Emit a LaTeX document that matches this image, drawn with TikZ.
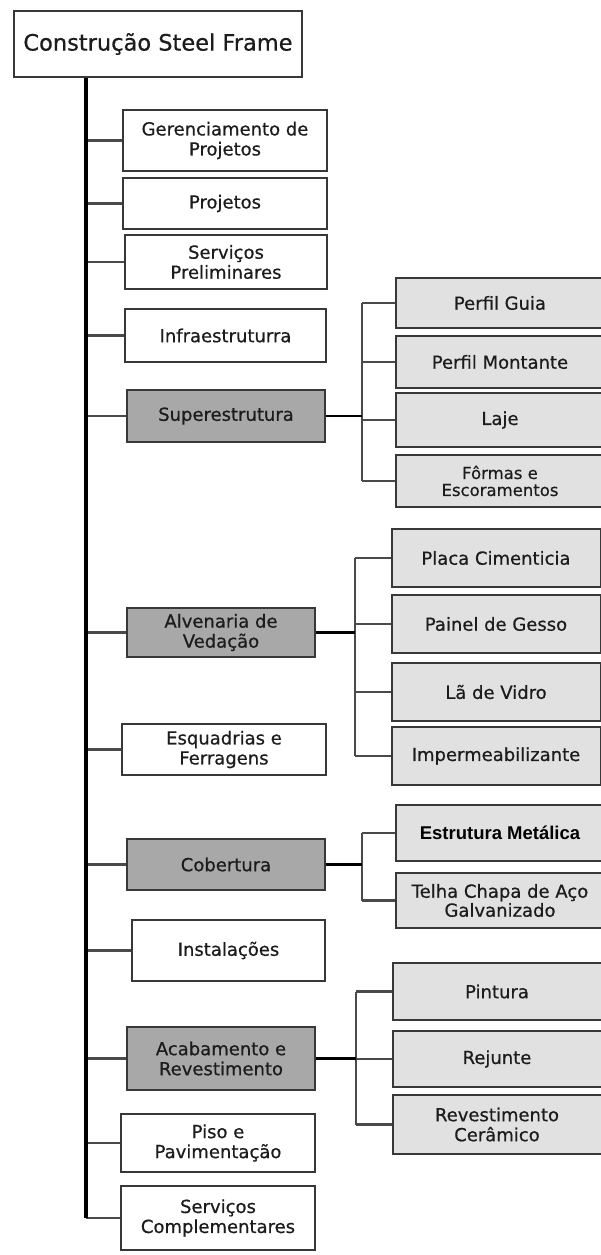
\documentclass[tikz,border=0pt]{standalone}
\usepackage{fontspec}
\setmainfont{DejaVu Sans}[FakeBold=0.6]
\newfontfamily\arialfont{Liberation Sans}
\usetikzlibrary{positioning}
\definecolor{boxline}{HTML}{383838}
\definecolor{darkfill}{HTML}{A8A8A8}
\definecolor{lightfill}{HTML}{E1E1E1}
\definecolor{branchgray}{HTML}{4A4A4A}
\definecolor{txt}{HTML}{1C1C1C}

\begin{document}
\begin{tikzpicture}[x=1pt,y=-1pt,
		wbs/.style={draw=boxline, line width=2pt, text=txt, align=center, inner sep=0pt,
			font=\fontsize{18}{20}\selectfont},
		plain/.style={wbs, fill=white},
		group/.style={wbs, fill=darkfill},
		leaf/.style={wbs, fill=lightfill, minimum width=209},
		trunkline/.style={line width=3.6pt, black},
		hub/.style={line width=2.8pt, black},
		twig/.style={line width=2.2pt, branchgray}]
		\useasboundingbox (0,0) rectangle (600,1255);
		% root
		\node[plain, minimum width=288, minimum height=66, font=\fontsize{22.5}{26}\selectfont] (root) at (158,44) {Construção Steel Frame};
		% first level
		\node[plain, minimum width=204, minimum height=61] (ger) at (225,140.5) {Gerenciamento de\\Projetos};
		\node[plain, minimum width=204, minimum height=51] (proj) at (225,203.5) {Projetos};
		\node[plain, minimum width=202, minimum height=54] (serv) at (226,262) {Serviços\\Preliminares};
		\node[plain, minimum width=201, minimum height=53] (infra) at (225.5,335.5) {Infraestruturra};
		\node[group, minimum width=198, minimum height=52] (super) at (226,416) {Superestrutura};
		\node[group, minimum width=188, minimum height=49] (alv) at (221,632.5) {Alvenaria de\\Vedação};
		\node[plain, minimum width=204, minimum height=51] (esq) at (224,749.5) {Esquadrias e\\Ferragens};
		\node[group, minimum width=198, minimum height=51] (cob) at (226,864.5) {Cobertura};
		\node[plain, minimum width=193, minimum height=61] (inst) at (228.5,950.5) {Instalações};
		\node[group, minimum width=188, minimum height=63] (acab) at (221,1058.5) {Acabamento e\\Revestimento};
		\node[plain, minimum width=194, minimum height=58] (piso) at (218,1143) {Piso e\\Pavimentação};
		\node[plain, minimum width=194, minimum height=64] (servc) at (218,1218) {Serviços\\Complementares};
		% second level
		\node[leaf, minimum height=50] (guia) at (500,303) {Perfil Guia};
		\node[leaf, minimum height=52] (mont) at (500,362) {Perfil Montante};
		\node[leaf, minimum height=54] (laje) at (500,420) {Laje};
		\node[leaf, minimum height=52, font=\fontsize{16.5}{17}\selectfont] (form) at (500,481) {Fôrmas e\\Escoramentos};
		\node[leaf, minimum height=58] (placa) at (496,558) {Placa Cimenticia};
		\node[leaf, minimum height=58] (painel) at (496,624) {Painel de Gesso};
		\node[leaf, minimum height=58] (la) at (496,692) {Lã de Vidro};
		\node[leaf, minimum height=58] (imper) at (496,756) {Impermeabilizante};
		\node[leaf, minimum height=56, text=black, font=\arialfont\bfseries\fontsize{18.5}{20}\selectfont] (estr) at (500,833) {Estrutura Metálica};
		\node[leaf, minimum height=55, font=\fontsize{18}{19}\selectfont] (telha) at (500,900.5) {Telha Chapa de Aço\\Galvanizado};
		\node[leaf, minimum height=57] (pint) at (497,991.5) {Pintura};
		\node[leaf, minimum height=56] (rej) at (497,1059) {Rejunte};
		\node[leaf, minimum height=59] (revc) at (497,1124.5) {Revestimento\\Cerâmico};
		% trunk and first level branches
		\coordinate (top) at ([xshift=-72pt]root.south);
		\foreach \n in {ger,proj,serv,infra,super,alv,esq,cob,inst,acab,piso,servc}
			\draw[twig] (\n.west) -- (\n.west -| top);
		\draw[trunkline] (top) -- (servc.west -| top);
		% second level branches
		\coordinate (sbus) at ([xshift=36pt]super.east);
		\draw[twig] (sbus |- guia.west) -- (sbus |- form.west);
		\foreach \n in {guia,mont,laje,form}
			\draw[twig] (\n.west) -- (\n.west -| sbus);
		\draw[hub] (super.east) -- (sbus);
		\coordinate (abus) at ([xshift=39pt]alv.east);
		\draw[twig] (abus |- placa.west) -- (abus |- imper.west);
		\foreach \n in {placa,painel,la,imper}
			\draw[twig] (\n.west) -- (\n.west -| abus);
		\draw[hub] (alv.east) -- (abus);
		\coordinate (cbus) at ([xshift=36pt]cob.east);
		\draw[twig] (cbus |- estr.west) -- (cbus |- telha.west);
		\foreach \n in {estr,telha}
			\draw[twig] (\n.west) -- (\n.west -| cbus);
		\draw[hub] (cob.east) -- (cbus);
		\coordinate (rbus) at ([xshift=40pt]acab.east);
		\draw[twig] (rbus |- pint.west) -- (rbus |- revc.west);
		\foreach \n in {pint,rej,revc}
			\draw[twig] (\n.west) -- (\n.west -| rbus);
		\draw[hub] (acab.east) -- (rbus);
	\end{tikzpicture}
\end{document}
